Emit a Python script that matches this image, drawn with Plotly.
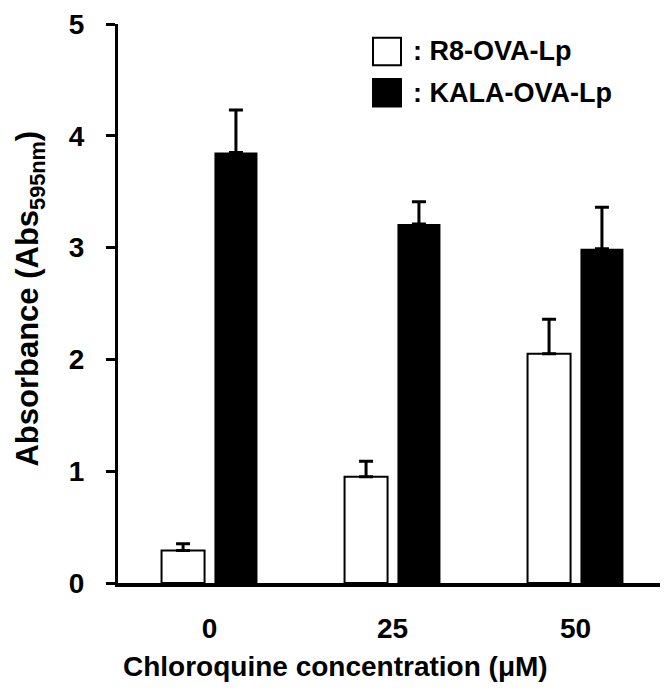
import plotly.graph_objects as go

# ---- data ----
categories = ["0", "25", "50"]
r8_values = [0.29, 0.95, 2.05]
r8_errors = [0.06, 0.14, 0.31]
kala_values = [3.85, 3.21, 2.99]
kala_errors = [0.38, 0.20, 0.37]
series_names = [": R8-OVA-Lp", ": KALA-OVA-Lp"]
y_ticks = [0, 1, 2, 3, 4, 5]

# ---- layout geometry (page pixels) ----
W, H = 668, 695
BODY = 8  # default page body margin
L, R, T, B = 118, 667, 13, 583


def px(x):
    return (x - L) / (R - L)


def py(y):
    return (B - y) / (B - T)


FONT = "Arial, Liberation Sans, sans-serif"

fig = go.Figure()
fig.add_trace(go.Bar(
    x=categories, y=r8_values, name=series_names[0],
    width=0.235, offset=-0.262,
    marker=dict(color="white", line=dict(color="black", width=2)),
    error_y=dict(type="data", array=r8_errors, arrayminus=[0] * 3, symmetric=False,
                 color="black", thickness=3, width=7),
    showlegend=False,
))
fig.add_trace(go.Bar(
    x=categories, y=kala_values, name=series_names[1],
    width=0.235, offset=0.027,
    marker=dict(color="black", line=dict(color="black", width=0)),
    error_y=dict(type="data", array=kala_errors, arrayminus=[0] * 3, symmetric=False,
                 color="black", thickness=3, width=7),
    showlegend=False,
))

# manual legend
legend_rows = [(41, "white"), (83, "black")]
for (cy, fill), name in zip(legend_rows, series_names):
    fig.add_shape(type="rect", xref="paper", yref="paper",
                  x0=px(373), x1=px(401), y0=py(cy - 14), y1=py(cy + 14),
                  fillcolor=fill, line=dict(color="black", width=2))
    fig.add_annotation(x=px(411), y=py(cy), xref="paper", yref="paper",
                       text=name, showarrow=False, xanchor="left", yanchor="middle",
                       font=dict(family=FONT, size=27, color="black", weight="bold"))

# axis titles
fig.add_annotation(x=px(335), y=py(668), xref="paper", yref="paper",
                   text="Chloroquine concentration (μM)", showarrow=False,
                   xanchor="center", yanchor="middle",
                   font=dict(family=FONT, size=28, color="black", weight="bold"))
fig.add_annotation(x=px(BODY + 1), y=py(293), xref="paper", yref="paper",
                   text="Absorbance (Abs<sub>595nm</sub>)", showarrow=False, textangle=-90,
                   xanchor="left", yanchor="middle", borderpad=0,
                   font=dict(family=FONT, size=31, color="black", weight="bold"))

fig.update_layout(
    width=W - BODY, height=H - BODY,
    margin=dict(l=L - BODY, r=W - R, t=T - BODY, b=H - B, pad=0),
    paper_bgcolor="white", plot_bgcolor="white",
    barmode="overlay",
    font=dict(family=FONT, color="black"),
    xaxis=dict(type="category", range=[-0.5, 2.5], showgrid=False, zeroline=False,
               showline=True, linecolor="black", linewidth=4, ticks="",
               tickfont=dict(family=FONT, size=28, color="black", weight="bold"),
               ticklabelstandoff=17),
    yaxis=dict(range=[0, 5], tickvals=y_ticks, showgrid=False, zeroline=False,
               showline=True, linecolor="black", linewidth=3,
               ticks="outside", ticklen=9, tickwidth=3, tickcolor="black",
               tickfont=dict(family=FONT, size=28, color="black", weight="bold"),
               ticklabelstandoff=16, ticklabeloverflow="allow"),
)

fig.write_html("out.html")
